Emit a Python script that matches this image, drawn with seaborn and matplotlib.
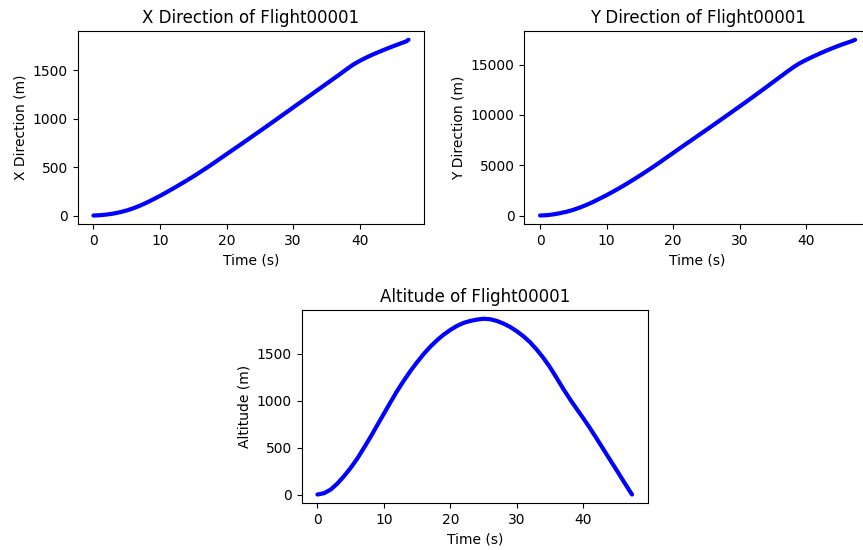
import matplotlib
matplotlib.use("Agg")
import matplotlib.pyplot as plt
import seaborn as sns
import pandas as pd

time_s = [0, 1, 2, 3, 4, 5, 6, 7, 8, 9, 10, 11, 12, 13, 14, 15, 16, 17, 18, 19,
          20, 21, 22, 23, 24, 25, 26, 27, 28, 29, 30, 31, 32, 33, 34, 35, 36, 37,
          38, 39, 40, 41, 42, 43, 44, 45, 46, 47, 47.35]
x_dir = [0, 3, 10, 20, 34, 52, 75, 102, 133, 167, 203, 241, 280, 320, 361, 403,
         447, 492, 538, 586, 634, 681, 728, 776, 824, 872, 920, 969, 1018, 1067,
         1116, 1165, 1214, 1263, 1312, 1361, 1410, 1459, 1510, 1558, 1598, 1633,
         1665, 1694, 1722, 1749, 1775, 1800, 1817]
y_dir = [0, 33, 110, 230, 375, 563, 795, 1060, 1358, 1690, 2020, 2384, 2755, 3146,
         3550, 3970, 4400, 4834, 5290, 5755, 6220, 6685, 7145, 7600, 8060, 8520,
         8980, 9445, 9910, 10380, 10850, 11320, 11800, 12280, 12770, 13260, 13750,
         14240, 14720, 15140, 15480, 15800, 16100, 16390, 16660, 16920, 17150,
         17380, 17483]
alt = [0, 14, 53, 117, 196, 284, 384, 498, 615, 739, 862, 985, 1105, 1215, 1318,
       1412, 1500, 1578, 1646, 1706, 1756, 1799, 1831, 1852, 1866, 1875, 1870,
       1852, 1824, 1788, 1742, 1689, 1625, 1546, 1458, 1358, 1244, 1127, 1018,
       915, 815, 710, 600, 487, 375, 263, 150, 37, 0]

df = pd.DataFrame({"t": time_s, "x": x_dir, "y": y_dir, "alt": alt})

fig = plt.figure(figsize=(8.63, 5.5), dpi=100)
ax1 = fig.add_axes([0.0900, 0.5922, 0.4016, 0.3515])
ax2 = fig.add_axes([0.6075, 0.5922, 0.4016, 0.3515])
ax3 = fig.add_axes([0.3496, 0.0849, 0.4010, 0.3515])

specs = [
    (ax1, "x", "X Direction of Flight00001", "X Direction (m)"),
    (ax2, "y", "Y Direction of Flight00001", "Y Direction (m)"),
    (ax3, "alt", "Altitude of Flight00001", "Altitude (m)"),
]
for ax, col, title, ylabel in specs:
    sns.lineplot(data=df, x="t", y=col, ax=ax, color="blue", linewidth=3,
                 solid_capstyle="round", solid_joinstyle="round")
    ax.set_title(title, fontsize=12)
    ax.set_xlabel("Time (s)")
    ax.set_ylabel(ylabel)

fig.savefig("out.png", dpi=100)
